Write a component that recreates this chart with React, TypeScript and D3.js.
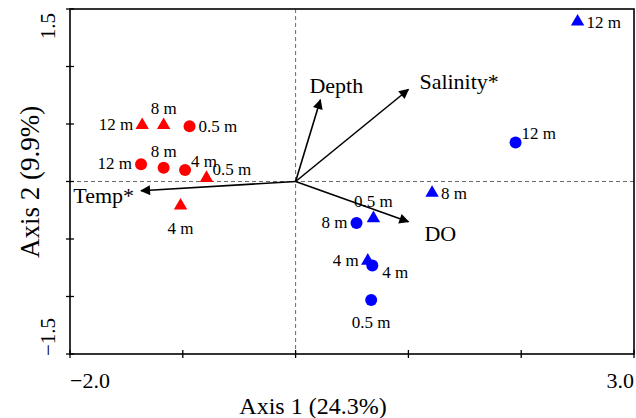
import { useEffect, useRef } from 'react'
import * as d3 from 'd3'

// site scores: x = axis 1, y = axis 2
const redCircles = [
  { x: -0.94, y: 0.48, label: '0.5 m', pos: 'right' },
  { x: -1.37, y: 0.15, label: '12 m', pos: 'left' },
  { x: -1.17, y: 0.12, label: '8 m', pos: 'above' },
  { x: -0.98, y: 0.1, label: '4 m', pos: 'aboveRight' },
]
const redTriangles = [
  { x: -1.36, y: 0.49, label: '12 m', pos: 'left' },
  { x: -1.17, y: 0.49, label: '8 m', pos: 'above' },
  { x: -0.79, y: 0.03, label: '0.5 m', pos: 'aboveRight' },
  { x: -1.02, y: -0.21, label: '4 m', pos: 'below' },
]
const blueCircles = [
  { x: 1.95, y: 0.34, label: '12 m', pos: 'aboveRight' },
  { x: 0.54, y: -0.36, label: '8 m', pos: 'left' },
  { x: 0.68, y: -0.73, label: '4 m', pos: 'belowRight' },
  { x: 0.67, y: -1.03, label: '0.5 m', pos: 'below' },
]
const blueTriangles = [
  { x: 2.5, y: 1.39, label: '12 m', pos: 'right' },
  { x: 1.21, y: -0.1, label: '8 m', pos: 'right' },
  { x: 0.69, y: -0.32, label: '0.5 m', pos: 'above' },
  { x: 0.64, y: -0.69, label: '4 m', pos: 'left' },
]

// environmental vectors
const vectors = [
  { name: 'Depth', x: 0.22, y: 0.71, side: 'top' },
  { name: 'Salinity*', x: 1.0, y: 0.8, side: 'right' },
  { name: 'DO', x: 1.0, y: -0.35, side: 'bottom' },
  { name: 'Temp*', x: -1.37, y: -0.08, side: 'left' },
]

const xDomain = [-2, 3]
const yDomain = [-1.5, 1.5]
const xTicks = [-2, -1, 0, 1, 2, 3]
const yTicks = [-1.5, -1, -0.5, 0, 0.5, 1, 1.5]

export default function App() {
  const ref = useRef<SVGSVGElement>(null)

  useEffect(() => {
    if (!ref.current) return
    const width = 636
    const height = 418
    const margin = { top: 9, right: 2, bottom: 64, left: 70 }
    const svg = d3.select(ref.current)
    svg.selectAll('*').remove()

    const x = d3.scaleLinear().domain(xDomain).range([margin.left, width - margin.right])
    const y = d3.scaleLinear().domain(yDomain).range([height - margin.bottom, margin.top])
    const font = "'Liberation Serif', 'Times New Roman', Times, serif"

    svg.append('defs')
      .append('marker')
      .attr('id', 'arrow')
      .attr('viewBox', '0 0 10 10')
      .attr('refX', 9)
      .attr('refY', 5)
      .attr('markerWidth', 14)
      .attr('markerHeight', 10)
      .attr('markerUnits', 'userSpaceOnUse')
      .attr('orient', 'auto')
      .append('path')
      .attr('d', 'M0,0 L10,5 L0,10 Z')
      .attr('fill', '#000')

    // dashed zero lines
    svg.append('line')
      .attr('x1', x(0)).attr('x2', x(0))
      .attr('y1', y(1.5)).attr('y2', y(-1.5))
      .attr('stroke', '#444').attr('stroke-width', 0.8)
      .attr('stroke-dasharray', '4,3')
    svg.append('line')
      .attr('x1', x(-2)).attr('x2', x(3))
      .attr('y1', y(0)).attr('y2', y(0))
      .attr('stroke', '#444').attr('stroke-width', 0.8)
      .attr('stroke-dasharray', '4,3')

    // frame
    svg.append('rect')
      .attr('x', x(-2)).attr('y', y(1.5))
      .attr('width', x(3) - x(-2)).attr('height', y(-1.5) - y(1.5))
      .attr('fill', 'none').attr('stroke', '#000').attr('stroke-width', 1.6)

    // ticks crossing the axes
    svg.selectAll('.xt').data(xTicks).join('line')
      .attr('x1', (d) => x(d)).attr('x2', (d) => x(d))
      .attr('y1', y(-1.5) - 4).attr('y2', y(-1.5) + 4)
      .attr('stroke', '#000').attr('stroke-width', 1.3)
    svg.selectAll('.yt').data(yTicks).join('line')
      .attr('x1', x(-2) - 4).attr('x2', x(-2) + 4)
      .attr('y1', (d) => y(d)).attr('y2', (d) => y(d))
      .attr('stroke', '#000').attr('stroke-width', 1.3)

    const text = () => svg.append('text').style('font-family', font).attr('fill', '#000')

    // end tick labels
    text().attr('x', x(-2)).attr('y', y(-1.5) + 34)
      .attr('font-size', 22).text(d3.format('.1f')(xDomain[0]))
    text().attr('x', x(3)).attr('y', y(-1.5) + 34)
      .attr('text-anchor', 'end').attr('font-size', 22).text(d3.format('.1f')(xDomain[1]))
    text()
      .attr('transform', `translate(${x(-2) - 15},${y(1.5) + 4}) rotate(-90)`)
      .attr('text-anchor', 'end').attr('font-size', 21).text(d3.format('.1f')(yDomain[1]))
    text()
      .attr('transform', `translate(${x(-2) - 15},${y(-1.5) + 2}) rotate(-90)`)
      .attr('text-anchor', 'start').attr('font-size', 21).text(d3.format('.1f')(yDomain[0]))

    // axis titles
    text().attr('x', 313).attr('y', 414)
      .attr('text-anchor', 'middle').attr('font-size', 24).text('Axis 1 (24.3%)')
    text()
      .attr('transform', `translate(39,182) rotate(-90)`)
      .attr('text-anchor', 'middle').attr('font-size', 27).text('Axis 2 (9.9%)')

    // vectors
    const vecLabel = (side: string) => {
      switch (side) {
        case 'top': return { dx: -11, dy: -7, anchor: 'start' }
        case 'right': return { dx: 11, dy: -1, anchor: 'start' }
        case 'bottom': return { dx: 16, dy: 19, anchor: 'start' }
        default: return { dx: -7, dy: 12, anchor: 'end' }
      }
    }
    vectors.forEach((v) => {
      svg.append('line')
        .attr('x1', x(0)).attr('y1', y(0))
        .attr('x2', x(v.x)).attr('y2', y(v.y))
        .attr('stroke', '#000').attr('stroke-width', 1.6)
        .attr('marker-end', 'url(#arrow)')
      const p = vecLabel(v.side)
      text()
        .attr('x', x(v.x) + p.dx).attr('y', y(v.y) + p.dy)
        .attr('text-anchor', p.anchor)
        .attr('font-size', 22).text(v.name)
    })

    const tri = d3.symbol().type(d3.symbolTriangle).size(78)
    const groups = [
      { data: redCircles, color: '#ff0000', shape: 'circle' },
      { data: redTriangles, color: '#ff0000', shape: 'triangle' },
      { data: blueCircles, color: '#0000ff', shape: 'circle' },
      { data: blueTriangles, color: '#0000ff', shape: 'triangle' },
    ]

    const labelPlace = (pos: string) => {
      switch (pos) {
        case 'left': return { dx: -9, dy: -1, anchor: 'end' }
        case 'right': return { dx: 9, dy: 0, anchor: 'start' }
        case 'above': return { dx: 0, dy: -17, anchor: 'middle' }
        case 'below': return { dx: 0, dy: 22, anchor: 'middle' }
        case 'aboveRight': return { dx: 6, dy: -9, anchor: 'start' }
        case 'belowRight': return { dx: 10, dy: 7, anchor: 'start' }
        default: return { dx: 0, dy: 0, anchor: 'start' }
      }
    }

    groups.forEach((g) => {
      g.data.forEach((d) => {
        if (g.shape === 'circle') {
          svg.append('circle').attr('cx', x(d.x)).attr('cy', y(d.y))
            .attr('r', 6).attr('fill', g.color)
        } else {
          svg.append('path').attr('d', tri)
            .attr('transform', `translate(${x(d.x)},${y(d.y)})`)
            .attr('fill', g.color)
        }
        const p = labelPlace(d.pos)
        text()
          .attr('x', x(d.x) + p.dx).attr('y', y(d.y) + p.dy)
          .attr('dy', '0.35em')
          .attr('text-anchor', p.anchor)
          .attr('font-size', 17).text(d.label)
      })
    })
  }, [])

  return (
    <div style={{ position: 'absolute', left: 0, top: 0 }}>
      <svg ref={ref} width={636} height={418} style={{ display: 'block', background: '#fff' }} />
    </div>
  )
}
